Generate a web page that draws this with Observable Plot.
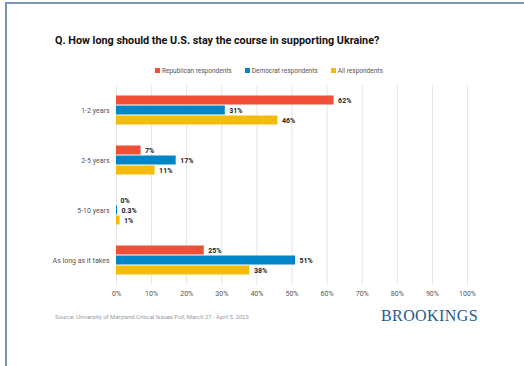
<!DOCTYPE html>
<html>
<head>
<meta charset="utf-8">
<script src="https://cdn.jsdelivr.net/npm/d3@7"></script>
<script src="https://cdn.jsdelivr.net/npm/@observablehq/plot@0.6"></script>
<style>
  html, body { margin: 0; padding: 0; background: #fff; }
  body { width: 524px; height: 366px; position: relative; overflow: hidden; font-family: Roboto, "Noto Sans", sans-serif; }
  #frame { position: absolute; left: 5px; top: 2px; width: 530px; height: 380px; border-top: 2px solid #8196bd; border-left: 2px solid #7d93bf; box-sizing: border-box; }
  #title { position: absolute; left: 55px; top: 34px; font-size: 10.8px; font-weight: 700; color: #111; white-space: nowrap; }
  #legend { position: absolute; left: 155px; top: 67px; font-size: 6.5px; color: #555; white-space: nowrap; display: flex; gap: 13px; }
  #legend span.sw { display: inline-block; width: 5px; height: 5px; margin-right: 2px; vertical-align: 0px; }
  #chart { position: absolute; left: 0; top: 85px; }
  #source { position: absolute; left: 55px; top: 314px; font-size: 5.9px; color: #9a9a9a; white-space: nowrap; }
  #brand { position: absolute; left: 381px; top: 307px; font-family: "Liberation Serif", "DejaVu Serif", serif; font-size: 16px; color: #1f5a8e; white-space: nowrap; letter-spacing: 0.4px; }
</style>
</head>
<body>
<div id="frame"></div>
<div id="title">Q. How long should the U.S. stay the course in supporting Ukraine?</div>
<div id="legend"></div>
<div id="chart"></div>
<div id="source">Source: University of Maryland Critical Issues Poll, March 27 - April 5, 2023</div>
<div id="brand">BROOKINGS</div>
<script>
const categories = ["1-2 years", "2-5 years", "5-10 years", "As long as it takes"];
const series = ["Republican respondents", "Democrat respondents", "All respondents"];
const colors = ["#f04e37", "#0086c6", "#f1bc0c"];
const republican = [62, 7, 0, 25];
const democrat = [31, 17, 0.3, 51];
const all = [46, 11, 1, 38];
const xTicks = [0, 10, 20, 30, 40, 50, 60, 70, 80, 90, 100];

const valuesBySeries = [republican, democrat, all];
const data = [];
categories.forEach((c, i) => {
  series.forEach((s, j) => {
    data.push({category: c, series: s, value: valuesBySeries[j][i]});
  });
});

const legend = document.getElementById("legend");
series.forEach((s, j) => {
  const item = document.createElement("span");
  item.innerHTML = `<span class="sw" style="background:${colors[j]}"></span>${s}`;
  legend.appendChild(item);
});

const chart = Plot.plot({
  width: 524,
  height: 220,
  marginTop: 0,
  marginBottom: 20,
  marginLeft: 116,
  marginRight: 57,
  style: {fontFamily: "Roboto, sans-serif", fontSize: "7px", color: "#555", background: "transparent"},
  x: {domain: [0, 100], ticks: xTicks, tickFormat: d => d + "%", tickSize: 0, tickPadding: 6, label: null, grid: false},
  fy: {domain: categories, padding: 0, label: null, tickSize: 0, tickPadding: 7},
  y: {domain: series, paddingInner: 0, paddingOuter: 0.88, axis: null},
  color: {domain: series, range: colors},
  facet: {data, y: "category"},
  marks: [
    Plot.gridX(xTicks, {stroke: "#e4e4e4", strokeOpacity: 1, strokeWidth: 1}),
    Plot.barX(data, {x: "value", y: "series", fill: "series", insetTop: 0.5, insetBottom: 0.5}),
    Plot.text(data, {x: "value", y: "series", text: d => d.value + "%", textAnchor: "start", dx: 4, fontWeight: "bold", fill: "#222", fontSize: 7})
  ]
});
document.getElementById("chart").appendChild(chart);
</script>
</body>
</html>
